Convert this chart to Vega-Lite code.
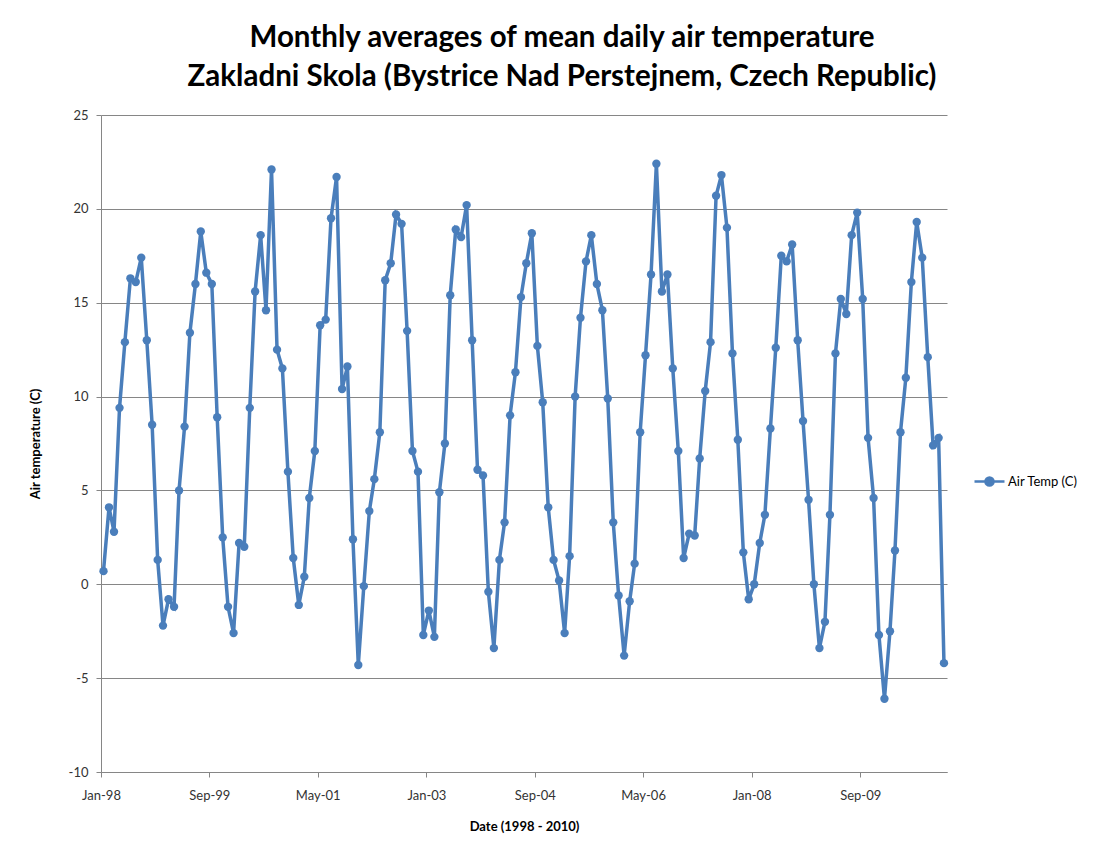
{
  "$schema": "https://vega.github.io/schema/vega-lite/v6.json",
  "autosize": {"type": "none"},
  "padding": {"left": 101, "top": 115, "right": 167, "bottom": 81},
  "width": 846,
  "height": 657,
  "background": "white",
  "title": {
    "text": ["Monthly averages of mean daily air temperature", "Zakladni Skola (Bystrice Nad Perstejnem, Czech Republic)"],
    "anchor": "middle",
    "frame": "group",
    "dx": 38,
    "font": "Lato",
    "fontSize": 29.5,
    "fontWeight": "bold",
    "color": "#000000",
    "lineHeight": 39,
    "offset": 17
  },
  "config": {
    "view": {"stroke": null},
    "axis": {"labelFont": "Lato", "titleFont": "Lato", "labelColor": "#333333", "titleColor": "#000000", "labelFontSize": 13, "titleFontSize": 13, "titleFontWeight": "bold"}
  },
  "data": {
    "values": [
      {"date": "1998-01-15", "temp": 0.7}, {"date": "1998-02-15", "temp": 4.1}, {"date": "1998-03-15", "temp": 2.8}, {"date": "1998-04-15", "temp": 9.4}, {"date": "1998-05-15", "temp": 12.9}, {"date": "1998-06-15", "temp": 16.3}, {"date": "1998-07-15", "temp": 16.1}, {"date": "1998-08-15", "temp": 17.4}, {"date": "1998-09-15", "temp": 13.0}, {"date": "1998-10-15", "temp": 8.5}, {"date": "1998-11-15", "temp": 1.3}, {"date": "1998-12-15", "temp": -2.2},
      {"date": "1999-01-15", "temp": -0.8}, {"date": "1999-02-15", "temp": -1.2}, {"date": "1999-03-15", "temp": 5.0}, {"date": "1999-04-15", "temp": 8.4}, {"date": "1999-05-15", "temp": 13.4}, {"date": "1999-06-15", "temp": 16.0}, {"date": "1999-07-15", "temp": 18.8}, {"date": "1999-08-15", "temp": 16.6}, {"date": "1999-09-15", "temp": 16.0}, {"date": "1999-10-15", "temp": 8.9}, {"date": "1999-11-15", "temp": 2.5}, {"date": "1999-12-15", "temp": -1.2},
      {"date": "2000-01-15", "temp": -2.6}, {"date": "2000-02-15", "temp": 2.2}, {"date": "2000-03-15", "temp": 2.0}, {"date": "2000-04-15", "temp": 9.4}, {"date": "2000-05-15", "temp": 15.6}, {"date": "2000-06-15", "temp": 18.6}, {"date": "2000-07-15", "temp": 14.6}, {"date": "2000-08-15", "temp": 22.1}, {"date": "2000-09-15", "temp": 12.5}, {"date": "2000-10-15", "temp": 11.5}, {"date": "2000-11-15", "temp": 6.0}, {"date": "2000-12-15", "temp": 1.4},
      {"date": "2001-01-15", "temp": -1.1}, {"date": "2001-02-15", "temp": 0.4}, {"date": "2001-03-15", "temp": 4.6}, {"date": "2001-04-15", "temp": 7.1}, {"date": "2001-05-15", "temp": 13.8}, {"date": "2001-06-15", "temp": 14.1}, {"date": "2001-07-15", "temp": 19.5}, {"date": "2001-08-15", "temp": 21.7}, {"date": "2001-09-15", "temp": 10.4}, {"date": "2001-10-15", "temp": 11.6}, {"date": "2001-11-15", "temp": 2.4}, {"date": "2001-12-15", "temp": -4.3},
      {"date": "2002-01-15", "temp": -0.1}, {"date": "2002-02-15", "temp": 3.9}, {"date": "2002-03-15", "temp": 5.6}, {"date": "2002-04-15", "temp": 8.1}, {"date": "2002-05-15", "temp": 16.2}, {"date": "2002-06-15", "temp": 17.1}, {"date": "2002-07-15", "temp": 19.7}, {"date": "2002-08-15", "temp": 19.2}, {"date": "2002-09-15", "temp": 13.5}, {"date": "2002-10-15", "temp": 7.1}, {"date": "2002-11-15", "temp": 6.0}, {"date": "2002-12-15", "temp": -2.7},
      {"date": "2003-01-15", "temp": -1.4}, {"date": "2003-02-15", "temp": -2.8}, {"date": "2003-03-15", "temp": 4.9}, {"date": "2003-04-15", "temp": 7.5}, {"date": "2003-05-15", "temp": 15.4}, {"date": "2003-06-15", "temp": 18.9}, {"date": "2003-07-15", "temp": 18.5}, {"date": "2003-08-15", "temp": 20.2}, {"date": "2003-09-15", "temp": 13.0}, {"date": "2003-10-15", "temp": 6.1}, {"date": "2003-11-15", "temp": 5.8}, {"date": "2003-12-15", "temp": -0.4},
      {"date": "2004-01-15", "temp": -3.4}, {"date": "2004-02-15", "temp": 1.3}, {"date": "2004-03-15", "temp": 3.3}, {"date": "2004-04-15", "temp": 9.0}, {"date": "2004-05-15", "temp": 11.3}, {"date": "2004-06-15", "temp": 15.3}, {"date": "2004-07-15", "temp": 17.1}, {"date": "2004-08-15", "temp": 18.7}, {"date": "2004-09-15", "temp": 12.7}, {"date": "2004-10-15", "temp": 9.7}, {"date": "2004-11-15", "temp": 4.1}, {"date": "2004-12-15", "temp": 1.3},
      {"date": "2005-01-15", "temp": 0.2}, {"date": "2005-02-15", "temp": -2.6}, {"date": "2005-03-15", "temp": 1.5}, {"date": "2005-04-15", "temp": 10.0}, {"date": "2005-05-15", "temp": 14.2}, {"date": "2005-06-15", "temp": 17.2}, {"date": "2005-07-15", "temp": 18.6}, {"date": "2005-08-15", "temp": 16.0}, {"date": "2005-09-15", "temp": 14.6}, {"date": "2005-10-15", "temp": 9.9}, {"date": "2005-11-15", "temp": 3.3}, {"date": "2005-12-15", "temp": -0.6},
      {"date": "2006-01-15", "temp": -3.8}, {"date": "2006-02-15", "temp": -0.9}, {"date": "2006-03-15", "temp": 1.1}, {"date": "2006-04-15", "temp": 8.1}, {"date": "2006-05-15", "temp": 12.2}, {"date": "2006-06-15", "temp": 16.5}, {"date": "2006-07-15", "temp": 22.4}, {"date": "2006-08-15", "temp": 15.6}, {"date": "2006-09-15", "temp": 16.5}, {"date": "2006-10-15", "temp": 11.5}, {"date": "2006-11-15", "temp": 7.1}, {"date": "2006-12-15", "temp": 1.4},
      {"date": "2007-01-15", "temp": 2.7}, {"date": "2007-02-15", "temp": 2.6}, {"date": "2007-03-15", "temp": 6.7}, {"date": "2007-04-15", "temp": 10.3}, {"date": "2007-05-15", "temp": 12.9}, {"date": "2007-06-15", "temp": 20.7}, {"date": "2007-07-15", "temp": 21.8}, {"date": "2007-08-15", "temp": 19.0}, {"date": "2007-09-15", "temp": 12.3}, {"date": "2007-10-15", "temp": 7.7}, {"date": "2007-11-15", "temp": 1.7}, {"date": "2007-12-15", "temp": -0.8},
      {"date": "2008-01-15", "temp": 0.0}, {"date": "2008-02-15", "temp": 2.2}, {"date": "2008-03-15", "temp": 3.7}, {"date": "2008-04-15", "temp": 8.3}, {"date": "2008-05-15", "temp": 12.6}, {"date": "2008-06-15", "temp": 17.5}, {"date": "2008-07-15", "temp": 17.2}, {"date": "2008-08-15", "temp": 18.1}, {"date": "2008-09-15", "temp": 13.0}, {"date": "2008-10-15", "temp": 8.7}, {"date": "2008-11-15", "temp": 4.5}, {"date": "2008-12-15", "temp": 0.0},
      {"date": "2009-01-15", "temp": -3.4}, {"date": "2009-02-15", "temp": -2.0}, {"date": "2009-03-15", "temp": 3.7}, {"date": "2009-04-15", "temp": 12.3}, {"date": "2009-05-15", "temp": 15.2}, {"date": "2009-06-15", "temp": 14.4}, {"date": "2009-07-15", "temp": 18.6}, {"date": "2009-08-15", "temp": 19.8}, {"date": "2009-09-15", "temp": 15.2}, {"date": "2009-10-15", "temp": 7.8}, {"date": "2009-11-15", "temp": 4.6}, {"date": "2009-12-15", "temp": -2.7},
      {"date": "2010-01-15", "temp": -6.1}, {"date": "2010-02-15", "temp": -2.5}, {"date": "2010-03-15", "temp": 1.8}, {"date": "2010-04-15", "temp": 8.1}, {"date": "2010-05-15", "temp": 11.0}, {"date": "2010-06-15", "temp": 16.1}, {"date": "2010-07-15", "temp": 19.3}, {"date": "2010-08-15", "temp": 17.4}, {"date": "2010-09-15", "temp": 12.1}, {"date": "2010-10-15", "temp": 7.4}, {"date": "2010-11-15", "temp": 7.8}, {"date": "2010-12-15", "temp": -4.2}
    ]
  },
  "mark": {"type": "line", "strokeWidth": 3.5, "point": {"filled": true, "size": 70}},
  "encoding": {
    "x": {
      "field": "date",
      "type": "temporal",
      "scale": {"type": "utc", "domain": [{"year": 1998, "month": 1, "date": 1, "utc": true}, {"year": 2011, "month": 1, "date": 1, "utc": true}]},
      "axis": {
        "title": "Date (1998 - 2010)",
        "format": "%b-%y",
        "values": [
          {"year": 1998, "month": 1, "date": 1, "utc": true},
          {"year": 1999, "month": 9, "date": 1, "utc": true},
          {"year": 2001, "month": 5, "date": 1, "utc": true},
          {"year": 2003, "month": 1, "date": 1, "utc": true},
          {"year": 2004, "month": 9, "date": 1, "utc": true},
          {"year": 2006, "month": 5, "date": 1, "utc": true},
          {"year": 2008, "month": 1, "date": 1, "utc": true},
          {"year": 2009, "month": 9, "date": 1, "utc": true}
        ],
        "grid": false,
        "domainColor": "#868686",
        "tickColor": "#868686",
        "tickSize": 5,
        "labelPadding": 12,
        "titlePadding": 18,
        "labelFlush": false
      }
    },
    "y": {
      "field": "temp",
      "type": "quantitative",
      "scale": {"domain": [-10, 25], "nice": false},
      "axis": {
        "title": "Air temperature (C)",
        "values": [-10, -5, 0, 5, 10, 15, 20, 25],
        "labelExpr": "toString(datum.value)",
        "gridColor": "#868686",
        "gridWidth": 1,
        "domainColor": "#868686",
        "tickColor": "#868686",
        "tickSize": 5,
        "labelPadding": 8,
        "titlePadding": 26
      }
    },
    "color": {
      "datum": "Air Temp (C)",
      "type": "nominal",
      "scale": {"range": ["#4a7ebb"]},
      "legend": {
        "title": null,
        "orient": "none",
        "legendX": 872,
        "legendY": 350,
        "labelFont": "Lato",
        "labelFontSize": 13,
        "labelColor": "#000000",
        "symbolType": "M-1,0L1,0M-0.27,0A0.27,0.27 0 1,1 0.27,0A0.27,0.27 0 1,1 -0.27,0Z",
        "symbolSize": 900,
        "symbolStrokeWidth": 2.5,
        "symbolFillColor": "#4a7ebb",
        "symbolStrokeColor": "#4a7ebb",
        "labelOffset": 2
      }
    }
  }
}
